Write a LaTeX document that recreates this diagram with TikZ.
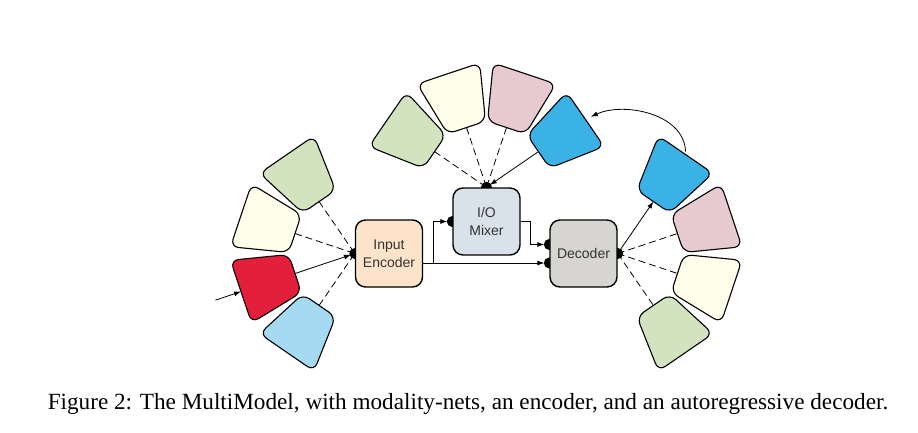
\documentclass[tikz,border=0pt]{standalone}
\usepackage{fontspec}
\setmainfont{Liberation Serif}
\setsansfont{Liberation Sans}
\usetikzlibrary{backgrounds,arrows.meta}
\definecolor{netgreen}{HTML}{D3E3C0}
\definecolor{netcream}{HTML}{FFFEEB}
\definecolor{netpink}{HTML}{E6CAD0}
\definecolor{netblue}{HTML}{3BB2E5}
\definecolor{netred}{HTML}{E31F3C}
\definecolor{netsky}{HTML}{A6DAF3}
\definecolor{encfill}{HTML}{FDE3CA}
\definecolor{mixfill}{HTML}{D9E2EA}
\definecolor{decfill}{HTML}{D6D5D1}
\tikzset{
  block/.style={draw,line width=1.4pt,rounded corners=10pt,minimum width=67pt,minimum height=67pt,
    align=center,text=black!80,font=\sffamily\fontsize{14}{18}\selectfont},
  net/.style={draw,line width=1.1pt,rounded corners=8pt},
  feed/.style={line width=0.8pt,dash pattern=on 7pt off 4pt},
  flow/.style={line width=0.8pt,->}
}
\newcommand{\modnet}[4]{%
  \begin{scope}[shift={(#1)},rotate=#2]
    \draw[net,fill=#3] (63,-20) -- (120,-33) -- (120,33) -- (63,20) -- cycle;
    \coordinate (#4) at (63,0);
    \coordinate (#4o) at (120,0);
  \end{scope}}
\begin{document}
\begin{tikzpicture}[x=1pt,y=-1pt,>={Latex[length=7pt,width=5pt]}]
\useasboundingbox (0,0) rectangle (918,433);

\node[block,fill=encfill] (enc) at (389,253.5) {Input\\Encoder};
\node[block,fill=mixfill] (mix) at (486.5,221.5) {I/O\\Mixer};
\node[block,fill=decfill] (dec) at (583.5,253.5) {Decoder};

\coordinate (d1) at ([yshift=9pt]dec.west);
\coordinate (d2) at ([yshift=-9.5pt]dec.west);

\begin{scope}[on background layer]
\foreach \p in {enc.west,mix.north,mix.west,dec.east,d1,d2}
  \fill (\p) circle (5.5);
\end{scope}

\foreach \a/\c/\n in {124.5/netgreen/l1,161.5/netcream/l2,198.5/netred/l3,235.5/netsky/l4}
  \modnet{enc.west}{\a}{\c}{\n};
\foreach \a/\c/\n in {145.5/netgreen/t1,108.5/netcream/t2,71.5/netpink/t3,34.5/netblue/t4}
  \modnet{mix.north}{\a}{\c}{\n};
\foreach \a/\c/\n in {55.5/netblue/r1,18.5/netpink/r2,-18.5/netcream/r3,-55.5/netgreen/r4}
  \modnet{dec.east}{\a}{\c}{\n};

\path[shift={(enc.west)},rotate=198.5] (147,0) coordinate (src);

\foreach \n in {l1,l2,l4}
  \draw[feed] (\n) -- (enc.west);
\foreach \n in {t1,t2,t3}
  \draw[feed] (\n) -- (mix.north);
\foreach \n in {r2,r3,r4}
  \draw[feed] (dec.east) -- (\n);

\draw[flow] (src) -- (l3o);
\draw[flow,shorten >=4pt] (l3) -- (enc.west);
\draw[flow,shorten >=4pt] (t4) -- (mix.north);
\draw[flow] (dec.east) -- (r1);
\draw[flow,shorten <=3pt,shorten >=6pt] (r1o) to[out=92,in=25] (t4o);

\draw[flow,shorten >=5pt] (enc.east |- d2) -- (d2);
\draw[flow,shorten >=5pt] (enc.east |- d2) -- ++(10,0) |- (mix.west);
\draw[flow,shorten >=5pt] (mix.east) -- ++(10,0) |- (d1);

\node[anchor=base,font=\fontsize{23.2}{28}\selectfont] (cap) at (468,409)
  {Figure 2: The MultiModel, with modality-nets, an encoder, and an autoregressive decoder.};
\end{tikzpicture}
\end{document}
